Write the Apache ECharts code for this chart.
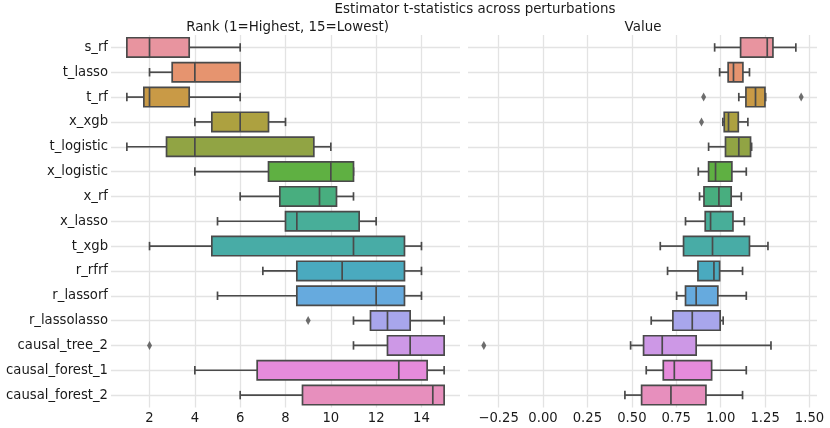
<!DOCTYPE html>
<html>
<head>
<meta charset="utf-8">
<script src="https://cdn.jsdelivr.net/npm/echarts@6/dist/echarts.min.js"></script>
<style>
  html, body { margin: 0; padding: 0; background: #fff; }
  #main { width: 830px; height: 428px; }
</style>
</head>
<body>
<div id="main"></div>
<script>
  // estimators, top to bottom
  const categories = ['s_rf', 't_lasso', 't_rf', 'x_xgb', 't_logistic', 'x_logistic', 'x_rf', 'x_lasso',
    't_xgb', 'r_rfrf', 'r_lassorf', 'r_lassolasso', 'causal_tree_2', 'causal_forest_1', 'causal_forest_2'];

  // [min, q1, median, q3, max]
  const rankBoxes = [
    [1, 1, 2, 3.75, 6],
    [2, 3, 4, 6, 6],
    [1, 1.75, 2, 3.75, 6],
    [4, 4.75, 6, 7.25, 8],
    [1, 2.75, 4, 9.25, 10],
    [4, 7.25, 10, 11, 11],
    [6, 7.75, 9.5, 10.25, 11],
    [5, 8, 8.5, 11.25, 12],
    [2, 4.75, 11, 13.25, 14],
    [7, 8.5, 10.5, 13.25, 14],
    [5, 8.5, 12, 13.25, 14],
    [11, 11.75, 12.5, 13.5, 15],
    [11, 12.5, 13.5, 15, 15],
    [4, 6.75, 13, 14.25, 15],
    [6, 8.75, 14.5, 15, 15]
  ];
  // [value, estimator index]
  const rankOutliers = [[9, 11], [2, 12]];

  const valueBoxes = [
    [0.966, 1.112, 1.262, 1.294, 1.423],
    [0.994, 1.042, 1.072, 1.125, 1.162],
    [1.102, 1.142, 1.196, 1.249, 1.253],
    [1.012, 1.020, 1.044, 1.099, 1.153],
    [0.932, 1.027, 1.102, 1.168, 1.174],
    [0.874, 0.932, 0.971, 1.063, 1.144],
    [0.881, 0.906, 0.990, 1.059, 1.116],
    [0.802, 0.913, 0.943, 1.069, 1.133],
    [0.660, 0.791, 0.954, 1.162, 1.266],
    [0.701, 0.872, 0.962, 0.994, 1.123],
    [0.752, 0.802, 0.862, 0.984, 1.144],
    [0.609, 0.731, 0.840, 0.997, 1.014],
    [0.493, 0.566, 0.671, 0.862, 1.283],
    [0.581, 0.677, 0.739, 0.949, 1.144],
    [0.461, 0.555, 0.720, 0.917, 1.123]
  ];
  const valueOutliers = [[0.904, 2], [1.453, 2], [0.892, 3], [-0.333, 12]];

  const rankTicks = [2, 4, 6, 8, 10, 12, 14];
  const valueTicks = [-0.25, 0, 0.25, 0.5, 0.75, 1, 1.25, 1.5];

  const palette = ['#e8949f', '#e6946f', '#c99a46', '#ada140', '#91a444', '#5fb042', '#48ae7f', '#48ae99',
    '#48aca6', '#4aaabf', '#66aade', '#a8a6ec', '#cd98e6', '#e68bdb', '#e78fbd'];

  const edge = '#4a4a4a';
  const gridColor = '#e3e3e3';
  const font = 'DejaVu Sans';
  const catIdx = categories.map((c, i) => i);

  function boxItem(params, api) {
    let i = api.value(0);
    let p = [1, 2, 3, 4, 5].map(d => api.coord([api.value(d), i]));
    let y = p[0][1];
    let band = Math.abs(api.size([0, 1])[1]);
    let bh = band * 0.39, ch = band * 0.17;
    let ls = {stroke: edge, lineWidth: 1.7};
    return {
      type: 'group',
      children: [
        {type: 'line', shape: {x1: p[0][0], y1: y, x2: p[1][0], y2: y}, style: ls},
        {type: 'line', shape: {x1: p[3][0], y1: y, x2: p[4][0], y2: y}, style: ls},
        {type: 'line', shape: {x1: p[0][0], y1: y - ch, x2: p[0][0], y2: y + ch}, style: ls},
        {type: 'line', shape: {x1: p[4][0], y1: y - ch, x2: p[4][0], y2: y + ch}, style: ls},
        {type: 'rect', shape: {x: p[1][0], y: y - bh, width: p[3][0] - p[1][0], height: 2 * bh},
          style: {fill: palette[i], stroke: edge, lineWidth: 1.7}},
        {type: 'line', shape: {x1: p[2][0], y1: y - bh, x2: p[2][0], y2: y + bh}, style: ls}
      ]
    };
  }

  function xAxisOf(idx, min, max, ticks, fmt) {
    return {
      type: 'value', gridIndex: idx, min: min, max: max,
      axisLine: {show: false},
      axisTick: {show: false, customValues: ticks},
      axisLabel: {customValues: ticks, color: '#1a1a1a', fontFamily: font, fontSize: 13.2, margin: 5, formatter: fmt},
      splitLine: {show: true, lineStyle: {color: gridColor, width: 1.3}}
    };
  }
  function yAxisOf(idx, showLabels) {
    return {
      type: 'value', gridIndex: idx, min: -0.5, max: categories.length - 0.5, inverse: true,
      axisLine: {show: false},
      axisTick: {show: false, customValues: catIdx},
      axisLabel: {show: showLabels, customValues: catIdx, color: '#1a1a1a', fontFamily: font, fontSize: 13.2, margin: 3,
        formatter: v => categories[Math.round(v)]},
      splitLine: {show: true, lineStyle: {color: gridColor, width: 1.3}}
    };
  }

  let myChart = echarts.init(document.getElementById('main'), null, {renderer: 'canvas'});
  myChart.setOption({
    animation: false,
    backgroundColor: '#fff',
    textStyle: {fontFamily: font},
    grid: [
      {left: 111, top: 35, width: 349, height: 372.5},
      {left: 468, top: 35, width: 349, height: 372.5}
    ],
    xAxis: [
      xAxisOf(0, 0.3, 15.7, rankTicks, v => String(v)),
      xAxisOf(1, -0.422, 1.542, valueTicks, v => v.toFixed(2).replace('-', '\u2212'))
    ],
    yAxis: [yAxisOf(0, true), yAxisOf(1, false)],
    graphic: [
      {type: 'text', x: 475, y: 10, style: {text: 'Estimator t-statistics across perturbations', font: '13.4px "DejaVu Sans"', fill: '#1a1a1a', align: 'center', verticalAlign: 'middle'}},
      {type: 'text', x: 287.5, y: 28, style: {text: 'Rank (1=Highest, 15=Lowest)', font: '13.4px "DejaVu Sans"', fill: '#1a1a1a', align: 'center', verticalAlign: 'middle'}},
      {type: 'text', x: 643, y: 28, style: {text: 'Value', font: '13.4px "DejaVu Sans"', fill: '#1a1a1a', align: 'center', verticalAlign: 'middle'}}
    ],
    series: [
      {
        type: 'custom', xAxisIndex: 0, yAxisIndex: 0,
        renderItem: boxItem, encode: {x: [1, 2, 3, 4, 5], y: 0},
        data: rankBoxes.map((b, i) => [i].concat(b))
      },
      {
        type: 'scatter', xAxisIndex: 0, yAxisIndex: 0,
        symbol: 'diamond', symbolSize: [5, 9],
        itemStyle: {color: edge},
        data: rankOutliers
      },
      {
        type: 'custom', xAxisIndex: 1, yAxisIndex: 1,
        renderItem: boxItem, encode: {x: [1, 2, 3, 4, 5], y: 0},
        data: valueBoxes.map((b, i) => [i].concat(b))
      },
      {
        type: 'scatter', xAxisIndex: 1, yAxisIndex: 1,
        symbol: 'diamond', symbolSize: [5, 9],
        itemStyle: {color: edge},
        data: valueOutliers
      }
    ]
  });
  window.addEventListener('resize', myChart.resize);
</script>
</body>
</html>
